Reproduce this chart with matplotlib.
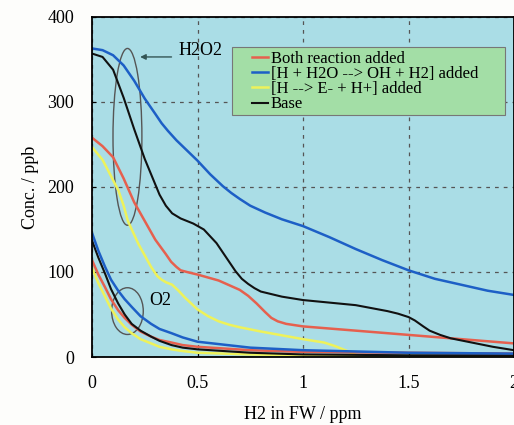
import numpy as np
import matplotlib
matplotlib.use("Agg")
import matplotlib.pyplot as plt
from matplotlib.patches import Ellipse, Rectangle

# H2O2 curves
blue_h2o2_x = [0, 0.05, 0.1, 0.15, 0.2, 0.25, 0.3, 0.33, 0.36, 0.4, 0.45, 0.5, 0.56, 0.62, 0.66, 0.7, 0.75, 0.82, 0.9, 1.0, 1.125, 1.25, 1.375, 1.5, 1.625, 1.75, 1.875, 2.0]
blue_h2o2_y = [363, 361, 355, 343, 325, 304, 286, 275, 266, 255, 243, 231, 215, 201, 193, 186, 178, 170, 162, 154, 141, 127, 114, 102, 92, 85, 78, 73]

black_h2o2_x = [0, 0.05, 0.1, 0.15, 0.2, 0.25, 0.3, 0.32, 0.35, 0.38, 0.42, 0.45, 0.48, 0.53, 0.59, 0.65, 0.68, 0.71, 0.74, 0.77, 0.8, 0.9, 1.0, 1.25, 1.4, 1.45, 1.5, 1.53, 1.57, 1.6, 1.65, 1.7, 1.8, 1.9, 2.0]
black_h2o2_y = [357, 353, 338, 305, 268, 233, 203, 191, 178, 169, 163, 160, 157, 150, 134, 112, 101, 92, 86, 81, 77, 71, 67, 61, 54, 51, 47, 43, 36, 31, 26, 22, 17, 12, 8]

red_h2o2_x = [0, 0.05, 0.1, 0.15, 0.2, 0.25, 0.3, 0.35, 0.375, 0.4, 0.42, 0.45, 0.5, 0.6, 0.7, 0.74, 0.78, 0.82, 0.85, 0.88, 0.92, 1.0, 1.25, 1.5, 1.75, 2.0]
red_h2o2_y = [258, 248, 235, 210, 182, 160, 138, 121, 112, 106, 102, 100, 97, 90, 79, 72, 63, 53, 46, 42, 39, 36, 31, 26, 21, 16]

yellow_h2o2_x = [0, 0.05, 0.1, 0.125, 0.15, 0.17, 0.22, 0.28, 0.31, 0.33, 0.35, 0.38, 0.41, 0.44, 0.5, 0.55, 0.6, 0.65, 0.7, 0.8, 1.0, 1.1, 1.15, 1.2, 1.27]
yellow_h2o2_y = [247, 232, 208, 196, 178, 160, 133, 106, 95, 91, 88, 85, 78, 70, 56, 48, 42, 38, 35, 30, 21, 17, 13, 8, 0]

# O2 curves
o2_x = [0, 0.03, 0.062, 0.09, 0.124, 0.155, 0.188, 0.23, 0.28, 0.32, 0.377, 0.43, 0.5, 0.75, 1.0, 1.5, 2.0]
blue_o2_y = [146, 125, 106, 91, 78, 68, 59, 48, 39, 33, 28, 23, 18, 11, 8, 5, 4]
black_o2_y = [137, 117, 98, 80, 63, 50, 39, 31, 24, 19, 14, 11, 9, 5, 3, 2, 2]
red_o2_y = [114, 97, 82, 68, 55, 46, 38, 30, 24, 20, 17, 14, 12, 8, 6, 5, 4]
yellow_o2_y = [105, 87, 71, 57, 44, 35, 28, 21, 16, 12, 9, 7, 5, 3, 2, 1, 0]

labels = ["Both reaction added", "[H + H2O --> OH + H2] added", "[H --> E- + H+] added", "Base"]
c_red = "#e6604e"
c_blue = "#1d5fc6"
c_yellow = "#eef25a"
c_black = "#111111"

plt.rcParams["font.family"] = "Liberation Serif"

fig = plt.figure(figsize=(5.14, 4.25), dpi=100)
fig.patch.set_facecolor("#fdfdfb")
ax = fig.add_axes([92 / 514, 68 / 425, 1 - 92 / 514, 340 / 425])
ax.set_facecolor("#aadde6")

lw = 1.8
ax.plot(red_h2o2_x, red_h2o2_y, color=c_red, lw=lw, label=labels[0])
ax.plot(blue_h2o2_x, blue_h2o2_y, color=c_blue, lw=lw, label=labels[1])
ax.plot(yellow_h2o2_x, yellow_h2o2_y, color=c_yellow, lw=lw, label=labels[2])
ax.plot(black_h2o2_x, black_h2o2_y, color=c_black, lw=lw - 0.3, label=labels[3])

ax.plot(o2_x, yellow_o2_y, color=c_yellow, lw=lw)
ax.plot(o2_x, red_o2_y, color=c_red, lw=lw)
ax.plot(o2_x, black_o2_y, color=c_black, lw=lw - 0.3)
ax.plot(o2_x, blue_o2_y, color=c_blue, lw=lw)

ax.add_patch(Ellipse((0.168, 259), 0.137, 208, fill=False, ec="#555555", lw=1.0))
ax.add_patch(Ellipse((0.168, 54), 0.15, 55, fill=False, ec="#555555", lw=1.0))
ax.annotate("", xy=(0.215, 353), xytext=(0.39, 353),
            arrowprops=dict(arrowstyle="-|>", color="#335555", lw=1.0, mutation_scale=8))
ax.text(0.41, 361, "H2O2", fontsize=13, va="center", ha="left")
ax.text(0.27, 67, "O2", fontsize=13, va="center", ha="left")

ax.set_xlim(0, 2)
ax.set_ylim(0, 400)
ax.set_xticks([0, 0.5, 1, 1.5, 2])
ax.set_xticklabels(["0", "0.5", "1", "1.5", "2"])
ax.set_yticks([0, 100, 200, 300, 400])
ax.tick_params(direction="in", length=3, labelsize=13, pad=13)
ax.grid(True, ls=(0, (3, 4)), color="#555555", lw=0.9)
for s in ax.spines.values():
    s.set_linewidth(1.3)

ax.set_xlabel("H2 in FW / ppm", fontsize=13, labelpad=10)
ax.set_ylabel("Conc. / ppb", fontsize=13, labelpad=6)

# legend box is wider than its entries, so draw the frame separately
ax.add_patch(Rectangle((0.332, 0.712), 0.647, 0.2, transform=ax.transAxes,
                       facecolor="#a3dea6", edgecolor="#777777", lw=0.8, zorder=4))
leg = ax.legend(loc="upper left", bbox_to_anchor=(0.378, 0.9), fontsize=12,
                frameon=False, handlelength=1.0, handletextpad=0.15,
                labelspacing=-0.05, borderpad=0, borderaxespad=0)
leg.set_zorder(5)

fig.savefig("out.png", dpi=100, facecolor=fig.get_facecolor())
